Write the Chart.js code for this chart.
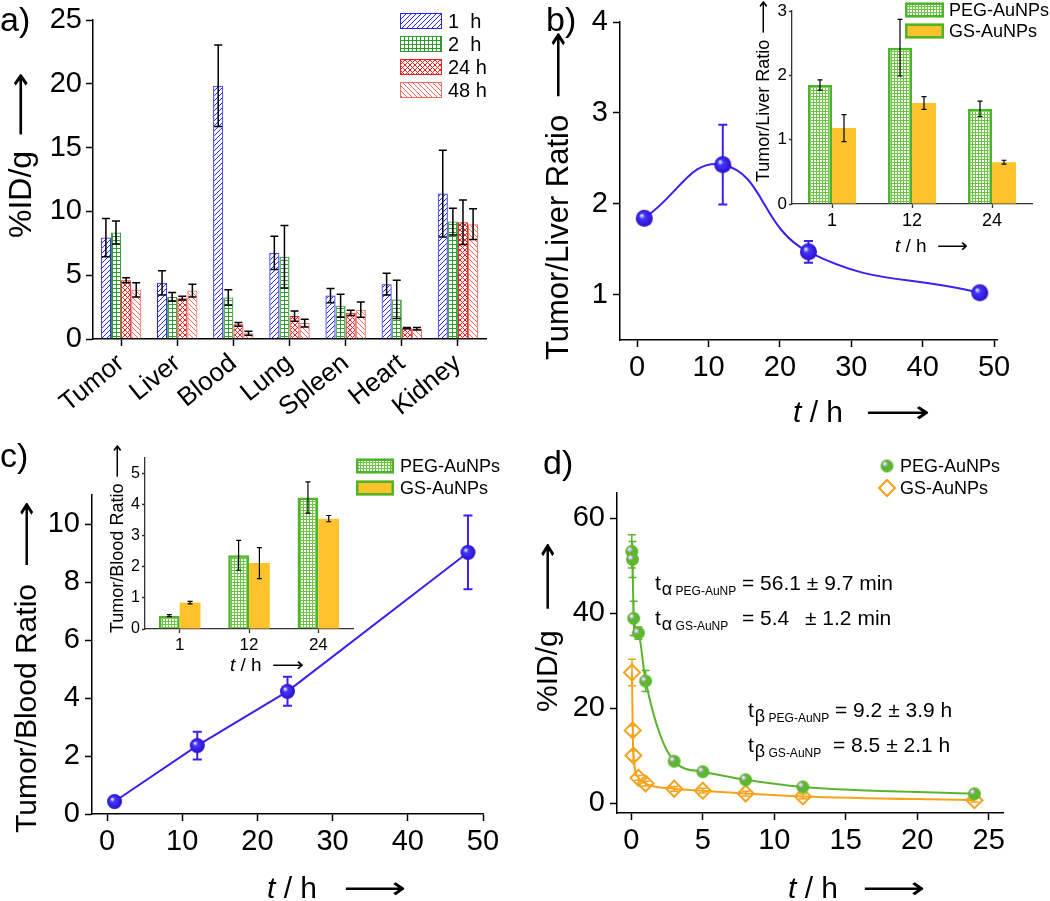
<!DOCTYPE html>
<html>
<head>
<meta charset="utf-8">
<script src="https://cdn.jsdelivr.net/npm/chart.js@4.4.0/dist/chart.umd.min.js"></script>
<style>
  html, body { margin: 0; padding: 0; background: #fff; }
  #wrap { position: relative; width: 1050px; height: 901px; overflow: hidden; background: #fff;
          font-family: 'Liberation Sans', Arial, sans-serif; color: #000; }
  canvas { position: absolute; left: 0; top: 0; }
  .t { position: absolute; white-space: nowrap; line-height: 1; }
  .arr { display: inline-block; font-family: 'DejaVu Sans', sans-serif; transform-origin: 0 50%; }
  .sub { position: relative; top: 5px; font-size: 12px; margin-left: 1px; }
  .gr { font-size: 18px; }
</style>
</head>
<body>
<div id="wrap">
  <canvas id="cA" width="1050" height="901"></canvas>
  <canvas id="cB" width="1050" height="901"></canvas>
  <canvas id="cBi" width="1050" height="901"></canvas>
  <canvas id="cC" width="1050" height="901"></canvas>
  <canvas id="cCi" width="1050" height="901"></canvas>
  <canvas id="cD" width="1050" height="901"></canvas>
</div>
<script>
// ---- data ----
// a) biodistribution, %ID/g
const organs = ['Tumor', 'Liver', 'Blood', 'Lung', 'Spleen', 'Heart', 'Kidney'];
const timeLabels = ['1  h', '2  h', '24 h', '48 h'];
const id1h = [7.95, 4.4, 19.85, 6.75, 3.4, 4.3, 11.4];
const id1hErr = [1.5, 0.95, 3.2, 1.3, 0.55, 0.85, 3.4];
const id2h = [8.35, 3.3, 3.25, 6.45, 2.6, 3.1, 9.2];
const id2hErr = [0.9, 0.35, 0.6, 2.45, 0.9, 1.5, 1.05];
const id24h = [4.6, 3.2, 1.15, 1.8, 2.05, 0.85, 9.15];
const id24hErr = [0.2, 0.15, 0.15, 0.4, 0.2, 0.05, 1.75];
const id48h = [3.85, 3.8, 0.45, 1.25, 2.3, 0.8, 9.0];
const id48hErr = [0.55, 0.5, 0.15, 0.3, 0.6, 0.1, 1.2];

// b) tumor / liver
const ratioTimes = [1, 12, 24, 48];
const tumorLiver = [1.84, 2.43, 1.47, 1.02];
const tumorLiverErr = [0.06, 0.44, 0.12, 0.02];
const insetTimes = ['1', '12', '24'];
const tlPEG = [1.85, 2.43, 1.48];
const tlPEGErr = [0.08, 0.44, 0.12];
const tlGS = [1.18, 1.57, 0.65];
const tlGSErr = [0.21, 0.1, 0.03];

// c) tumor / blood
const tumorBlood = [0.43, 2.36, 4.23, 9.02];
const tumorBloodErr = [0.05, 0.48, 0.5, 1.27];
const tbPEG = [0.43, 2.37, 4.23];
const tbPEGErr = [0.03, 0.48, 0.5];
const tbGS = [0.85, 2.12, 3.55];
const tbGSErr = [0.04, 0.5, 0.1];

// d) blood clearance
const pegTimes = [0.033, 0.083, 0.167, 0.5, 1, 3, 5, 8, 12, 24];
const pegID = [53.0, 51.3, 38.9, 35.8, 25.7, 8.8, 6.6, 4.9, 3.4, 1.95];
const pegIDErr = [3.5, 3.8, 3.6, 1.3, 2.2, 0.4, 0.4, 0.3, 0.3, 0.2];
const gsTimes = [0.05, 0.1, 0.15, 0.5, 1, 3, 5, 8, 12, 24];
const gsID = [27.5, 15.3, 10.0, 5.3, 4.1, 3.0, 2.6, 2.0, 1.4, 0.6];
const gsIDErr = [2.8, 1.0, 1.0, 0.5, 0.5, 0.5, 0.5, 0.5, 0.5, 0.4];
const seriesNames = ['PEG-AuNPs', 'GS-AuNPs'];

// ---- helpers ----
const FONT = "'Liberation Sans', Arial, sans-serif";
const W = 1050, H = 901;

function tile(size, draw) {
  const cv = document.createElement('canvas');
  cv.width = cv.height = size;
  draw(cv.getContext('2d'), size);
  return cv;
}
function hatch(color, size, dirs) {
  return tile(size, (g, s) => {
    g.strokeStyle = color; g.lineWidth = 1;
    g.beginPath();
    if (dirs.includes('/')) {
      g.moveTo(0, s); g.lineTo(s, 0);
      g.moveTo(-1, 1); g.lineTo(1, -1);
      g.moveTo(s - 1, s + 1); g.lineTo(s + 1, s - 1);
    }
    if (dirs.includes('\\')) {
      g.moveTo(0, 0); g.lineTo(s, s);
      g.moveTo(s - 1, -1); g.lineTo(s + 1, 1);
      g.moveTo(-1, s - 1); g.lineTo(1, s + 1);
    }
    g.stroke();
  });
}
function grid(color, size) {
  return tile(size, (g, s) => { g.fillStyle = color; g.fillRect(0, 0, s, 1); g.fillRect(0, 0, 1, s); });
}
const pctx = document.createElement('canvas').getContext('2d');
const pat = cv => pctx.createPattern(cv, 'repeat');

function sphere(r, hi, mid, edge) {
  const s = Math.ceil(r * 2) + 2, cv = document.createElement('canvas');
  cv.width = cv.height = s;
  const g = cv.getContext('2d'), c = s / 2;
  const gr = g.createRadialGradient(c - r * 0.35, c - r * 0.35, r * 0.05, c, c, r);
  gr.addColorStop(0, hi); gr.addColorStop(0.3, mid); gr.addColorStop(1, edge);
  g.fillStyle = gr; g.beginPath(); g.arc(c, c, r, 0, Math.PI * 2); g.fill();
  return cv;
}
function greenBall(r) {
  const s = Math.ceil(r * 2) + 2, cv = document.createElement('canvas');
  cv.width = cv.height = s;
  const g = cv.getContext('2d'), c = s / 2;
  g.fillStyle = '#5cb82e'; g.beginPath(); g.arc(c, c, r, 0, Math.PI * 2); g.fill();
  const hx = c - r * 0.3, hy = c - r * 0.3;
  const gr = g.createRadialGradient(hx - 0.6, hy - 0.6, 0.2, hx, hy, r * 0.4);
  gr.addColorStop(0, '#ffffff'); gr.addColorStop(1, '#9a98ae');
  g.fillStyle = gr; g.beginPath(); g.arc(hx, hy, r * 0.4, 0, Math.PI * 2); g.fill();
  return cv;
}

const BLUE = '#3a20f2';
const blueBallB = sphere(8.5, '#e6f6ff', '#4536ff', '#2a10c8');
const blueBallC = sphere(7.5, '#e6f6ff', '#4536ff', '#2a10c8');
const pegBall = greenBall(6.5);

// error bars drawn from each dataset's errors array through the y scale
function drawErrors(chart) {
  const ctx = chart.ctx, ys = chart.scales.y;
  chart.data.datasets.forEach((ds, i) => {
    if (!ds.errors) return;
    const meta = chart.getDatasetMeta(i);
    meta.data.forEach((el, j) => {
      const d = ds.data[j], e = ds.errors[j];
      if (e == null) return;
      const v = typeof d === 'object' ? d.y : d;
      const top = ys.getPixelForValue(v + e), bot = ys.getPixelForValue(v - e);
      const cw = (ds.capW || 6) / 2;
      ctx.save();
      ctx.strokeStyle = ds.errorColor || '#000';
      ctx.lineWidth = ds.errorWidth || 1.3;
      ctx.beginPath();
      ctx.moveTo(el.x, top); ctx.lineTo(el.x, bot);
      ctx.moveTo(el.x - cw, top); ctx.lineTo(el.x + cw, top);
      ctx.moveTo(el.x - cw, bot); ctx.lineTo(el.x + cw, bot);
      ctx.stroke();
      ctx.restore();
    });
  });
}
const errorBars = {
  id: 'errorBars',
  beforeDatasetsDraw(chart, args, o) { if (o.under) drawErrors(chart); },
  afterDatasetsDraw(chart, args, o) { if (!o.under) drawErrors(chart); }
};

// in-plot legends
const boxLegend = {
  id: 'boxLegend',
  afterDraw(chart, args, o) {
    if (!o.x) return;
    const ctx = chart.ctx;
    ctx.save();
    chart.data.datasets.forEach((ds, i) => {
      const cy = o.y + i * o.dy;
      if (o.marker) {
        ctx.strokeStyle = ds.pointBorderColor || ds.borderColor;
        ctx.fillStyle = 'rgba(0,0,0,0)';
        ctx.lineWidth = ds.pointBorderWidth || 0;
        Chart.helpers.drawPoint(ctx, { pointStyle: ds.pointStyle, radius: ds.pointRadius, rotation: 0,
          borderWidth: ds.pointBorderWidth || 0 }, o.x, cy);
      } else {
        ctx.fillStyle = ds.backgroundColor;
        ctx.fillRect(o.x, cy - o.h / 2, o.w, o.h);
        const bw = o.bw || ds.borderWidth || 0;
        if (bw) {
          ctx.strokeStyle = ds.borderColor; ctx.lineWidth = bw;
          ctx.strokeRect(o.x + bw / 2, cy - o.h / 2 + bw / 2, o.w - bw, o.h - bw);
        }
      }
      ctx.fillStyle = '#000';
      ctx.font = o.size + 'px ' + FONT;
      ctx.textBaseline = 'middle';
      ctx.fillText(ds.label, o.tx, cy + 1);
    });
    ctx.restore();
  }
};
Chart.register(errorBars, boxLegend);

function fit(w, h) {
  return s => {
    if (w != null) s.width = w;
    if (h != null) s.height = h;
    s.paddingLeft = s.paddingRight = s.paddingTop = s.paddingBottom = 0;
  };
}
function padFor(a, yw, xh) {
  return { left: a.l - yw, top: a.t, right: W - a.r, bottom: H - a.b - xh };
}
function axis(o) {
  const s = {
    type: o.type, offset: !!o.offset,
    border: { color: o.color || '#000', width: o.bw || 1.5 },
    grid: { drawOnChartArea: false, offset: false, tickLength: o.tl, tickWidth: o.bw || 1.5, tickColor: o.color || '#000' },
    ticks: { font: { family: FONT, size: o.size }, color: '#000', padding: o.pad, autoSkip: false,
             includeBounds: false, maxRotation: o.rot || 0, minRotation: o.rot || 0 },
    afterFit: fit(o.w, o.h)
  };
  if (o.min != null) s.min = o.min;
  if (o.max != null) s.max = o.max;
  if (o.step) s.ticks.stepSize = o.step;
  return s;
}
function base(area, yw, xh) {
  return {
    responsive: false, animation: false, events: [],
    layout: { padding: padFor(area, yw, xh) },
    plugins: { legend: { display: false }, tooltip: { enabled: false } }
  };
}
const pts = (xs, ys) => xs.map((x, i) => ({ x, y: ys[i] }));

// ---- a) bar chart ----
const cA = document.getElementById('cA');
const areaA = { l: 93, r: 486, t: 20, b: 339 };
const optA = base(areaA, 60, 90);
optA.datasets = { bar: { categoryPercentage: 0.72, barPercentage: 1 } };
optA.plugins.errorBars = { under: false };
optA.plugins.boxLegend = { x: 400, y: 21, dy: 23, w: 42, h: 16, tx: 448, size: 20 };
optA.scales = {
  x: axis({ type: 'category', offset: true, tl: 7, size: 26, pad: 2, rot: 39, h: 90 }),
  y: axis({ type: 'linear', min: 0, max: 25, step: 5, tl: 7, size: 29, pad: 4, w: 60 })
};
const barErr = { capW: 8, errorWidth: 1.5 };
new Chart(cA, {
  type: 'bar',
  data: {
    labels: organs,
    datasets: [
      { label: timeLabels[0], data: id1h, errors: id1hErr, ...barErr, backgroundColor: pat(hatch('#2424ff', 5, '/')), borderColor: '#2424ff', borderWidth: 1 },
      { label: timeLabels[1], data: id2h, errors: id2hErr, ...barErr, backgroundColor: pat(grid('#2f9a2f', 4)), borderColor: '#2f9a2f', borderWidth: 1 },
      { label: timeLabels[2], data: id24h, errors: id24hErr, ...barErr, backgroundColor: pat(hatch('#f01c1c', 5, '/\\')), borderColor: '#f01c1c', borderWidth: 1 },
      { label: timeLabels[3], data: id48h, errors: id48hErr, ...barErr, backgroundColor: pat(hatch('#f26c5c', 5, '\\')), borderColor: '#f26c5c', borderWidth: 1 }
    ]
  },
  options: optA
});

// ---- b) tumor/liver ratio ----
const areaB = { l: 620, r: 997.6, t: 22, b: 340 };
const optB = base(areaB, 60, 60);
optB.plugins.errorBars = { under: true };
optB.scales = {
  x: axis({ type: 'linear', min: -2.4, max: 50.5, step: 10, tl: 7, size: 29, pad: 4, h: 60 }),
  y: axis({ type: 'linear', min: 0.5, max: 4, step: 1, tl: 7, size: 29, pad: 5, w: 60 })
};
new Chart(document.getElementById('cB'), {
  type: 'line',
  data: { datasets: [{
    data: pts(ratioTimes, tumorLiver), errors: tumorLiverErr, errorColor: BLUE, errorWidth: 2, capW: 9,
    borderColor: BLUE, borderWidth: 2, tension: 0.45, pointStyle: blueBallB, pointRadius: 8.5, clip: false
  }] },
  options: optB
});

const PEG_GRID = pat(grid('#6cc444', 3));
const PEG_BORDER = '#4cb52a';
const GOLD = '#fec32c';

const areaBi = { l: 792, r: 1032, t: 11, b: 204 };
const optBi = base(areaBi, 30, 30);
optBi.datasets = { bar: { categoryPercentage: 0.6, barPercentage: 1 } };
optBi.plugins.errorBars = { under: false };
optBi.plugins.boxLegend = { x: 905, y: 10, dy: 21, w: 39, h: 15, tx: 949, size: 18, bw: 2.5 };
optBi.scales = {
  x: axis({ type: 'category', offset: true, tl: 4, size: 18, pad: 2, color: '#333', bw: 1.3, h: 30 }),
  y: axis({ type: 'linear', min: 0, max: 3, step: 1, tl: 3, size: 17, pad: 2, color: '#333', bw: 1.3, w: 30 })
};
new Chart(document.getElementById('cBi'), {
  type: 'bar',
  data: { labels: insetTimes, datasets: [
    { label: seriesNames[0], data: tlPEG, errors: tlPEGErr, capW: 5, errorWidth: 1.2, backgroundColor: PEG_GRID, borderColor: PEG_BORDER, borderWidth: 2.5 },
    { label: seriesNames[1], data: tlGS, errors: tlGSErr, capW: 5, errorWidth: 1.2, backgroundColor: GOLD, borderWidth: 0 }
  ] },
  options: optBi
});

// ---- c) tumor/blood ratio ----
const areaC = { l: 92, r: 483, t: 495, b: 814 };
const optC = base(areaC, 60, 60);
optC.plugins.errorBars = { under: true };
optC.scales = {
  x: axis({ type: 'linear', min: -2, max: 50, step: 10, tl: 7, size: 29, pad: 4, h: 60 }),
  y: axis({ type: 'linear', min: 0, max: 11, step: 2, tl: 7, size: 29, pad: 5, w: 60 })
};
new Chart(document.getElementById('cC'), {
  type: 'line',
  data: { datasets: [{
    data: pts(ratioTimes, tumorBlood), errors: tumorBloodErr, errorColor: BLUE, errorWidth: 2, capW: 9,
    borderColor: BLUE, borderWidth: 2, tension: 0, pointStyle: blueBallC, pointRadius: 7.5, clip: false
  }] },
  options: optC
});

const areaCi = { l: 145, r: 353, t: 458, b: 629 };
const optCi = base(areaCi, 30, 30);
optCi.datasets = { bar: { categoryPercentage: 0.6, barPercentage: 1 } };
optCi.plugins.errorBars = { under: false };
optCi.plugins.boxLegend = { x: 356, y: 466, dy: 22, w: 38, h: 15, tx: 400, size: 18, bw: 2.5 };
optCi.scales = {
  x: axis({ type: 'category', offset: true, tl: 4, size: 17, pad: 2, color: '#333', bw: 1.3, h: 30 }),
  y: axis({ type: 'linear', min: 0, max: 5.5, step: 1, tl: 3, size: 16, pad: 2, color: '#333', bw: 1.3, w: 30 })
};
new Chart(document.getElementById('cCi'), {
  type: 'bar',
  data: { labels: insetTimes, datasets: [
    { label: seriesNames[0], data: tbPEG, errors: tbPEGErr, capW: 5, errorWidth: 1.2, backgroundColor: PEG_GRID, borderColor: PEG_BORDER, borderWidth: 2.5 },
    { label: seriesNames[1], data: tbGS, errors: tbGSErr, capW: 5, errorWidth: 1.2, backgroundColor: GOLD, borderWidth: 0 }
  ] },
  options: optCi
});

// ---- d) blood clearance ----
const GREEN = '#5ab52c', ORANGE = '#f5a21c';
const areaD = { l: 617, r: 1003, t: 493, b: 813 };
const optD = base(areaD, 60, 60);
optD.plugins.errorBars = { under: true };
optD.plugins.boxLegend = { x: 887, y: 466, dy: 22, tx: 900, size: 18, marker: true };
optD.scales = {
  x: axis({ type: 'linear', min: -1, max: 26, step: 5, tl: 7, size: 29, pad: 4, h: 60 }),
  y: axis({ type: 'linear', min: -2.1, max: 65.3, step: 20, tl: 7, size: 29, pad: 5, w: 60 })
};
new Chart(document.getElementById('cD'), {
  type: 'line',
  data: { datasets: [
    { label: seriesNames[0], data: pts(pegTimes, pegID), errors: pegIDErr, errorColor: GREEN, errorWidth: 1.5, capW: 8,
      borderColor: GREEN, borderWidth: 2, cubicInterpolationMode: 'monotone', pointStyle: pegBall, pointRadius: 6.5, clip: false },
    { label: seriesNames[1], data: pts(gsTimes, gsID), errors: gsIDErr, errorColor: ORANGE, errorWidth: 1.5, capW: 8,
      borderColor: ORANGE, borderWidth: 2, cubicInterpolationMode: 'monotone', pointStyle: 'rectRot', pointRadius: 8,
      pointBorderColor: ORANGE, pointBackgroundColor: 'rgba(255,255,255,0)', pointBorderWidth: 2, clip: false }
  ] },
  options: optD
});

// ---- text overlays ----
const wrap = document.getElementById('wrap');
function addText(html, x, y, size, style) {
  const d = document.createElement('div');
  d.className = 't';
  d.innerHTML = html;
  d.style.left = x + 'px';
  d.style.top = y + 'px';
  d.style.fontSize = size + 'px';
  if (style) Object.assign(d.style, style);
  wrap.appendChild(d);
  return d;
}
// axis title with a long arrow; vertical titles start at (x, y) and run upward
function axisTitle(html, x, y, size, gap, arrowLen, vertical) {
  const d = addText('<span>' + html + '</span><span class="arr">\u27F6</span>', x, y, size);
  const a = d.querySelector('.arr');
  a.style.marginLeft = gap + 'px';
  const w = a.getBoundingClientRect().width;
  a.style.transform = 'scaleX(' + (arrowLen / w) + ')';
  if (vertical) {
    d.style.transformOrigin = '0 0';
    d.style.transform = 'rotate(-90deg) translate(0,-50%)';
  } else {
    d.style.transform = 'translate(0,-50%)';
  }
}

addText('a)', 0, 2, 34);
addText('b)', 546, 2, 34);
addText('c)', 0, 438, 34);
addText('d)', 543, 445, 34);

axisTitle('%ID/g', 20, 238, 32, 14, 65, true);
axisTitle('Tumor/Liver Ratio', 557, 360, 31, 16, 68, true);
axisTitle('Tumor/Liver Ratio', 763, 182, 18, 6, 34, true);
axisTitle('Tumor/Blood Ratio', 26, 833, 30, 16, 67, true);
axisTitle('Tumor/Blood Ratio', 117, 633, 18, 6, 34, true);
axisTitle('%ID/g', 547, 712, 30, 18, 70, true);

axisTitle('<i>t</i> / h', 793, 412, 30, 22, 65, false);
axisTitle('<i>t</i> / h', 895, 245, 19, 10, 31, false);
axisTitle('<i>t</i> / h', 267, 888, 30, 26, 63, false);
axisTitle('<i>t</i> / h', 230, 664, 19, 10, 32, false);
axisTitle('<i>t</i> / h', 788, 888, 30, 24, 63, false);

// half-life annotations in d), placed by baseline
const AF = 21, asc = 0.8465 * AF;
function tLabel(x, base, greek, name) {
  addText('t<span class="sub"><span class="gr">' + greek + '</span> ' + name + '</span>', x, base - asc, AF);
}
tLabel(655, 590, '\u03B1', 'PEG-AuNP');
addText('= 56.1 \u00B1 9.7 min', 742, 590 - asc, AF);
tLabel(655, 625, '\u03B1', 'GS-AuNP');
addText('= 5.4', 742, 625 - asc, AF);
addText('\u00B1 1.2 min', 805, 625 - asc, AF);
tLabel(748, 717, '\u03B2', 'PEG-AuNP');
addText('= 9.2 \u00B1 3.9 h', 835, 717 - asc, AF);
tLabel(748, 752, '\u03B2', 'GS-AuNP');
addText('= 8.5 \u00B1 2.1 h', 833, 752 - asc, AF);
</script>
</body>
</html>
